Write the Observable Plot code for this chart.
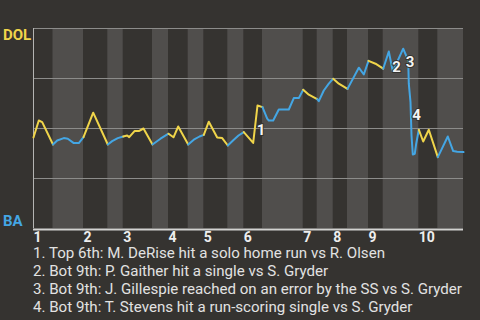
<!DOCTYPE html>
<html><head><meta charset="utf-8">
<script src="https://cdn.jsdelivr.net/npm/d3@7"></script>
<script src="https://cdn.jsdelivr.net/npm/@observablehq/plot@0.6"></script>
<style>
html,body{margin:0;padding:0;background:#353330;width:480px;height:320px;overflow:hidden;font-family:Roboto,sans-serif;}
#chart svg{display:block;}
#cap{margin:0;padding:0 0 0 33px;color:#e2e2e2;font-size:15.1px;line-height:18px;white-space:nowrap;}
</style></head><body>
<div id="chart"></div>
<div id="cap"></div>
<script>
// Half-inning start positions (game progress units) plus the end of the game
const halfStarts = [0, 3.9, 10, 14.86, 17.94, 23.8, 27, 30.94, 34.06, 38.86, 42.06, 45.8, 53.94, 56.74, 59.94, 62.8, 67, 69.94, 77.06, 80.86, 86];
const inningLabels = ["1","2","3","4","5","6","7","8","9","10"];
// Plays: progress position and DOL win probability
const playX = [
  0, 1.06, 1.74, 3.9,
  4.74, 6.06, 6.86, 8.06, 9.06, 10,
  11.94, 14.86,
  15.74, 16.86, 17.94,
  18.74, 19.14, 20.2, 21.06, 22, 23.8,
  25.4, 26.2, 27,
  28, 28.94, 30.94,
  32.06, 33.2, 34.06,
  35.06, 36.74, 37.74, 38.86,
  40.06, 41, 42.06,
  43.94, 44.8, 45.8,
  46.74, 47.06, 47.94, 49.06, 51.06, 52.06, 53.06, 53.94,
  55.06, 56.74,
  57.06, 58.06, 59.06, 59.94,
  61.06, 62.8,
  65.06, 66.06, 67,
  68.4, 69.94,
  71.06, 71.86, 73.94, 74.94, 75.06, 75.4, 75.6, 75.86, 76.26, 76.54, 77.06,
  77.94, 79.06, 80.86,
  82.86, 83.94, 84.74, 86
];
const winProb = [
  0.455, 0.54, 0.532, 0.42,
  0.44, 0.452, 0.449, 0.427, 0.427, 0.457,
  0.579, 0.42,
  0.437, 0.452, 0.46,
  0.465, 0.457, 0.487, 0.487, 0.5, 0.42,
  0.449, 0.462, 0.474,
  0.456, 0.51, 0.42,
  0.444, 0.46, 0.468,
  0.534, 0.455, 0.452, 0.415,
  0.444, 0.465, 0.482,
  0.428, 0.615, 0.607,
  0.549, 0.54, 0.54, 0.595, 0.595, 0.652, 0.652, 0.694,
  0.669, 0.647,
  0.637, 0.69, 0.724, 0.749,
  0.724, 0.698,
  0.804, 0.77, 0.838,
  0.824, 0.799,
  0.885, 0.785, 0.899, 0.84, 0.724, 0.632, 0.465, 0.37, 0.374, 0.424, 0.494,
  0.435, 0.494, 0.357,
  0.46, 0.387, 0.384, 0.382
];
const teams = ["DOL", "BA"];
const teamColors = ["#f0d54a", "#44a6e4"];
const noteLabels = ["1", "2", "3", "4"];
const noteX = [45.5, 72.6, 75.3, 76.6];
const noteY = [0.4925, 0.8065, 0.8315, 0.565];
const captionLines = [
  "1. Top 6th: M. DeRise hit a solo home run vs R. Olsen",
  "2. Bot 9th: P. Gaither hit a single vs S. Gryder",
  "3. Bot 9th: J. Gillespie reached on an error by the SS vs S. Gryder",
  "4. Bot 9th: T. Stevens hit a run-scoring single vs S. Gryder"
];

// Build tables
const halves = [];
for (let h = 0; h < halfStarts.length - 1; h++) {
  halves.push({h, x1: halfStarts[h], x2: halfStarts[h + 1], team: teams[h % 2]});
}
const lineRows = [];
halves.forEach(hv => {
  playX.forEach((x, i) => {
    if (x >= hv.x1 - 1e-9 && x <= hv.x2 + 1e-9) lineRows.push({x, y: winProb[i], half: hv.h, team: hv.team});
  });
});
const innings = inningLabels.map((t, i) => ({t, x: halfStarts[2 * i]}));
const notes = noteLabels.map((t, i) => ({t, x: noteX[i], y: noteY[i]}));

const chart = Plot.plot({
  width: 480, height: 244,
  marginLeft: 33, marginRight: 17, marginTop: 28, marginBottom: 16,
  x: {domain: [0, 86], axis: null},
  y: {domain: [0, 1], axis: null},
  color: {domain: teams, range: teamColors},
  style: {background: "transparent", fontFamily: "Roboto, sans-serif", overflow: "visible"},
  marks: [
    Plot.rect(halves.filter(d => d.h % 2 === 1), {x1: "x1", x2: "x2", y1: 0, y2: 1, fill: "#504e4c"}),
    Plot.ruleY([0.25, 0.5, 0.75, 1], {stroke: "#8c8c8a", strokeWidth: 1}),
    Plot.ruleX([0], {y1: 0, y2: 1, stroke: "#b4b4b2", strokeWidth: 1}),
    Plot.ruleY([0], {stroke: "#d2d2d0", strokeWidth: 2, dy: 1}),
    Plot.line(lineRows, {x: "x", y: "y", z: "half", stroke: "team", strokeWidth: 2, strokeLinejoin: "round", curve: "linear"}),
    Plot.text(notes, {x: "x", y: "y", text: "t", fill: "#f4f4f4", stroke: "#353330", strokeWidth: 2, fontWeight: "bold", fontSize: 15, lineAnchor: "middle"}),
    Plot.text(innings, {x: "x", y: 0, text: "t", textAnchor: "start", lineAnchor: "top", dy: 3.5, fill: "#eeeeee", fontWeight: "bold", fontSize: 14}),
    Plot.text([teams[0]], {x: 0, y: 1, text: d => d, textAnchor: "start", lineAnchor: "top", dx: -30.5, dy: 0.5, fill: teamColors[0], fontWeight: "bold", fontSize: 15}),
    Plot.text([teams[1]], {x: 0, y: 0, text: d => d, textAnchor: "start", lineAnchor: "top", dx: -30.5, dy: -13.5, fill: teamColors[1], fontWeight: "bold", fontSize: 15})
  ]
});
document.getElementById("chart").appendChild(chart);
document.getElementById("cap").innerHTML = captionLines.map(s => "<div>" + s + "</div>").join("");
</script>
</body></html>
